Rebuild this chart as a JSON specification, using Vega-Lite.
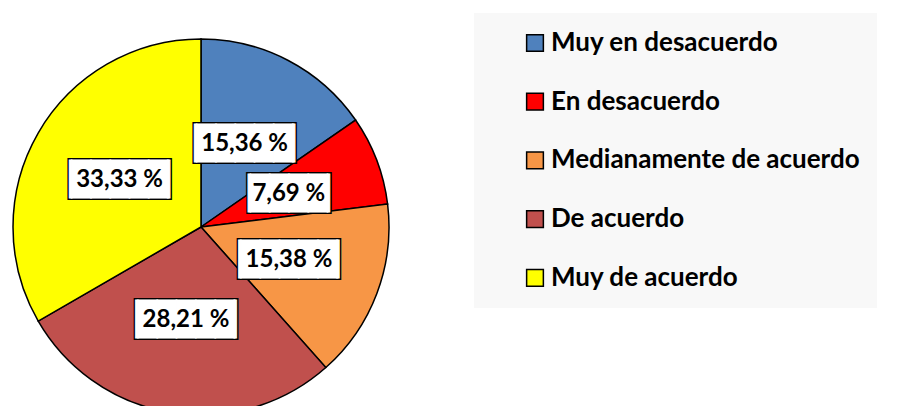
{
  "$schema": "https://vega.github.io/schema/vega-lite/v6.json",
  "width": 376,
  "height": 358,
  "autosize": {"type": "none"},
  "padding": {"left": 13, "top": 48, "right": 510, "bottom": 0},
  "background": "white",
  "config": {"view": {"stroke": null}},
  "data": {
    "values": [
      {"categoria": "Muy en desacuerdo", "valor": 15.36, "label": "15,36 %", "orden": 1},
      {"categoria": "En desacuerdo", "valor": 7.69, "label": "7,69 %", "orden": 2},
      {"categoria": "Medianamente de acuerdo", "valor": 15.38, "label": "15,38 %", "orden": 3},
      {"categoria": "De acuerdo", "valor": 28.21, "label": "28,21 %", "orden": 4},
      {"categoria": "Muy de acuerdo", "valor": 33.33, "label": "33,33 %", "orden": 5}
    ]
  },
  "encoding": {
    "theta": {"field": "valor", "type": "quantitative", "stack": true},
    "order": {"field": "orden", "type": "quantitative"},
    "detail": {"field": "categoria", "type": "nominal"}
  },
  "layer": [
    {
      "mark": {"type": "arc", "outerRadius": 188, "stroke": "#000", "strokeWidth": 1.5},
      "encoding": {
        "color": {
          "field": "categoria",
          "type": "nominal",
          "scale": {
            "domain": ["Muy en desacuerdo", "En desacuerdo", "Medianamente de acuerdo", "De acuerdo", "Muy de acuerdo"],
            "range": ["#4f81bd", "#ff0000", "#f79646", "#c0504d", "#ffff00"]
          },
          "legend": {
            "title": " ",
            "titleOrient": "left",
            "titleFontSize": 1,
            "titlePadding": 31,
            "orient": "none",
            "legendX": 461,
            "legendY": -35,
            "padding": 17,
            "fillColor": "#f8f8f8",
            "symbolType": "square",
            "symbolSize": 280,
            "symbolStrokeColor": "#000",
            "symbolStrokeWidth": 1.5,
            "labelFont": "Lato",
            "labelFontWeight": "bold",
            "labelFontSize": 26,
            "labelColor": "#000",
            "labelOffset": 3,
            "labelLimit": 700,
            "labelExpr": "datum.label + '\u00a0\u00a0\u00a0\u00a0\u00a0\u00a0\u00a0\u00a0\u00a0'",
            "rowPadding": 32.7
          }
        }
      }
    },
    {
      "mark": {"type": "text", "radius": 94, "font": "DejaVu Sans Mono", "fontSize": 32, "fill": "#000", "stroke": "#000", "strokeWidth": 4},
      "encoding": {
        "text": {"condition": {"test": "datum.valor < 10", "value": "▕████▏"}, "value": "▕█████▏"}
      }
    },
    {
      "mark": {"type": "text", "radius": 94, "font": "DejaVu Sans Mono", "fontSize": 32, "fill": "#fff", "stroke": "#fff", "strokeWidth": 1},
      "encoding": {
        "text": {"condition": {"test": "datum.valor < 10", "value": "▕████▏"}, "value": "▕█████▏"}
      }
    },
    {
      "mark": {"type": "text", "radius": 94, "font": "Lato", "fontWeight": "bold", "fontSize": 24, "fill": "#000"},
      "encoding": {
        "text": {"field": "label", "type": "nominal"}
      }
    }
  ]
}
